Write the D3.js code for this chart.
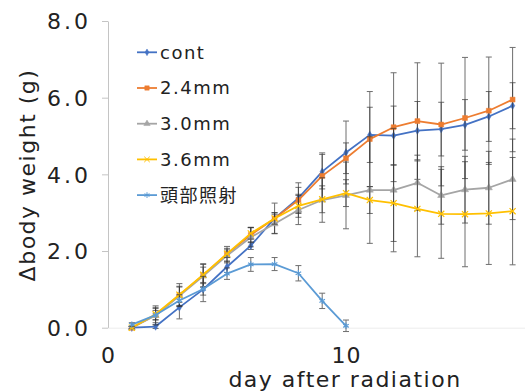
<!DOCTYPE html>
<html>
<head>
<meta charset="utf-8">
<script src="https://cdn.jsdelivr.net/npm/d3@7"></script>
<style>
  body { margin: 0; background: #fff; }
  svg text { font-family: "DejaVu Sans", "Noto Sans CJK JP", sans-serif; fill: #222; }
</style>
</head>
<body>
<div class="canvas"></div>
<script>
// data
const days = [1, 2, 3, 4, 5, 6, 7, 8, 9, 10, 11, 12, 13, 14, 15, 16, 17];
const headDays = [1, 2, 3, 4, 5, 6, 7, 8, 9, 10];

const seriesNames = ['cont', '2.4mm', '3.0mm', '3.6mm', '頭部照射'];

const cont   = [0.00, 0.03, 0.53, 1.00, 1.59, 2.14, 2.85, 3.38, 4.07, 4.57, 5.03, 5.01, 5.14, 5.18, 5.29, 5.51, 5.79];
const mm24   = [0.00, 0.33, 0.85, 1.37, 1.92, 2.42, 2.85, 3.33, 3.96, 4.42, 4.92, 5.23, 5.39, 5.30, 5.47, 5.66, 5.95];
const mm30   = [0.00, 0.32, 0.83, 1.35, 1.88, 2.36, 2.71, 3.07, 3.33, 3.45, 3.59, 3.59, 3.78, 3.45, 3.60, 3.65, 3.87];
const mm36   = [0.00, 0.35, 0.86, 1.38, 1.93, 2.46, 2.85, 3.18, 3.35, 3.51, 3.33, 3.25, 3.10, 2.97, 2.96, 2.98, 3.04];
const head   = [0.08, 0.33, 0.71, 1.01, 1.41, 1.65, 1.66, 1.42, 0.70, 0.05];

// error bar half lengths
const contErr = [0.03, 0.05, 0.30, 0.15, 0.15, 0.10, 0.15, 0.40, 0.45, 0.82, 0.72, 0.77, 0.76, 0.70, 0.66, 0.65, 0.60];
const mm24Err = [0.03, 0.20, 0.30, 0.30, 0.20, 0.20, 0.40, 0.33, 0.60, 0.40, 1.24, 1.42, 1.52, 1.60, 1.58, 1.40, 1.36];
const mm30Err = [0.03, 0.25, 0.25, 0.30, 0.19, 0.25, 0.25, 0.38, 0.58, 0.87, 1.39, 1.61, 0.72, 0.75, 0.87, 0.95, 1.05];
const mm36Err = [0.03, 0.15, 0.20, 0.20, 0.10, 0.15, 0.15, 0.30, 0.35, 0.35, 0.35, 1.00, 1.25, 1.16, 1.37, 1.33, 1.40];
const headErr = [0.05, 0.12, 0.15, 0.33, 0.15, 0.18, 0.17, 0.20, 0.20, 0.15];

const yTicks = [0, 2, 4, 6, 8];
const xTicks = [0, 10];

// series table
const series = [
  {name: seriesNames[0], x: days, y: cont, err: contErr, color: '#4472C4', symbol: d3.symbolDiamond, size: 16, stroke: false},
  {name: seriesNames[1], x: days, y: mm24, err: mm24Err, color: '#ED7D31', symbol: d3.symbolSquare, size: 24, stroke: false},
  {name: seriesNames[2], x: days, y: mm30, err: mm30Err, color: '#A5A5A5', symbol: d3.symbolTriangle, size: 22, stroke: false},
  {name: seriesNames[3], x: days, y: mm36, err: mm36Err, color: '#FFC000', symbol: d3.symbolTimes || d3.symbolCross, size: 26, stroke: true},
  {name: seriesNames[4], x: headDays, y: head, err: headErr, color: '#5B9BD5', symbol: d3.symbolAsterisk || d3.symbolCross, size: 28, stroke: true}
];

const dims = {width: 525, height: 391};

const svg = d3.select('.canvas')
  .append('svg')
  .attr('width', dims.width)
  .attr('height', dims.height);

// scales
const x = d3.scaleLinear().domain([0, 20]).range([108, 584]);
const y = d3.scaleLinear().domain([0, 8]).range([327.7, 21]);

// y axis
const yAxis = svg.append('g')
  .attr('transform', `translate(${x(0)},0)`)
  .call(d3.axisLeft(y).tickValues(yTicks).tickSize(6).tickSizeOuter(0).tickFormat(d3.format('.1f')));
yAxis.select('.domain').attr('stroke', '#c4c4c4');
yAxis.selectAll('.tick line').attr('stroke', '#c4c4c4');
yAxis.selectAll('.tick text')
  .attr('x', -17)
  .attr('dy', '0.36em')
  .style('font-size', '22px')
  .style('letter-spacing', '3px');

// x axis
const xAxis = svg.append('g')
  .attr('transform', `translate(0,${y(0)})`)
  .call(d3.axisBottom(x).tickValues(xTicks).tickSize(0).tickSizeOuter(0));
xAxis.select('.domain').attr('stroke', '#ececec');
xAxis.selectAll('.tick text')
  .attr('y', 35.5)
  .attr('dy', 0)
  .style('font-size', '22px')
  .style('letter-spacing', '1px');

// axis titles
svg.append('text')
  .attr('x', 345)
  .attr('y', 387)
  .attr('text-anchor', 'middle')
  .style('font-size', '22px')
  .style('letter-spacing', '1.5px')
  .text('day after radiation');

svg.append('text')
  .attr('transform', 'translate(35,175) rotate(-90)')
  .attr('text-anchor', 'middle')
  .style('font-size', '22px')
  .style('letter-spacing', '1.5px')
  .text('Δbody weight (g)');

// lines
const line = d3.line()
  .x(d => x(d.x))
  .y(d => y(d.y));

const graph = svg.append('g');

series.forEach(s => {
  const pts = s.x.map((d, i) => ({x: d, y: s.y[i], e: s.err[i]}));

  graph.append('path')
    .datum(pts)
    .attr('fill', 'none')
    .attr('stroke', s.color)
    .attr('stroke-width', 1.8)
    .attr('stroke-linejoin', 'round')
    .attr('d', line);

  // error bars
  const eb = graph.append('g').attr('stroke', '#333').attr('stroke-width', 1).attr('opacity', 0.7);
  eb.selectAll('line.v')
    .data(pts)
    .enter().append('line')
    .attr('x1', d => x(d.x)).attr('x2', d => x(d.x))
    .attr('y1', d => y(d.y - d.e)).attr('y2', d => y(d.y + d.e));
  eb.selectAll('line.top')
    .data(pts)
    .enter().append('line')
    .attr('x1', d => x(d.x) - 3).attr('x2', d => x(d.x) + 3)
    .attr('y1', d => y(d.y + d.e)).attr('y2', d => y(d.y + d.e));
  eb.selectAll('line.bot')
    .data(pts)
    .enter().append('line')
    .attr('x1', d => x(d.x) - 3).attr('x2', d => x(d.x) + 3)
    .attr('y1', d => y(d.y - d.e)).attr('y2', d => y(d.y - d.e));

  // markers
  const sym = d3.symbol().type(s.symbol).size(s.size);
  graph.append('g').selectAll('path')
    .data(pts)
    .enter().append('path')
    .attr('transform', d => `translate(${x(d.x)},${y(d.y)})`)
    .attr('d', sym)
    .attr('fill', s.stroke ? 'none' : s.color)
    .attr('stroke', s.color)
    .attr('stroke-width', s.stroke ? 1.2 : 0.5);
});

// legend
const legend = svg.append('g');
series.forEach((s, i) => {
  const ly = 52.3 + i * 35.7;
  const item = legend.append('g').attr('transform', `translate(137,${ly})`);
  item.append('line')
    .attr('x1', 0).attr('x2', 20)
    .attr('y1', 0).attr('y2', 0)
    .attr('stroke', s.color)
    .attr('stroke-width', 1.8);
  item.append('path')
    .attr('transform', 'translate(10,0)')
    .attr('d', d3.symbol().type(s.symbol).size(s.size * 0.8))
    .attr('fill', s.stroke ? 'none' : s.color)
    .attr('stroke', s.color)
    .attr('stroke-width', s.stroke ? 1 : 0.5);
  item.append('text')
    .attr('x', 23)
    .attr('dy', '0.36em')
    .style('font-size', '18px')
    .style('letter-spacing', '1.5px')
    .text(s.name);
});
</script>
</body>
</html>
